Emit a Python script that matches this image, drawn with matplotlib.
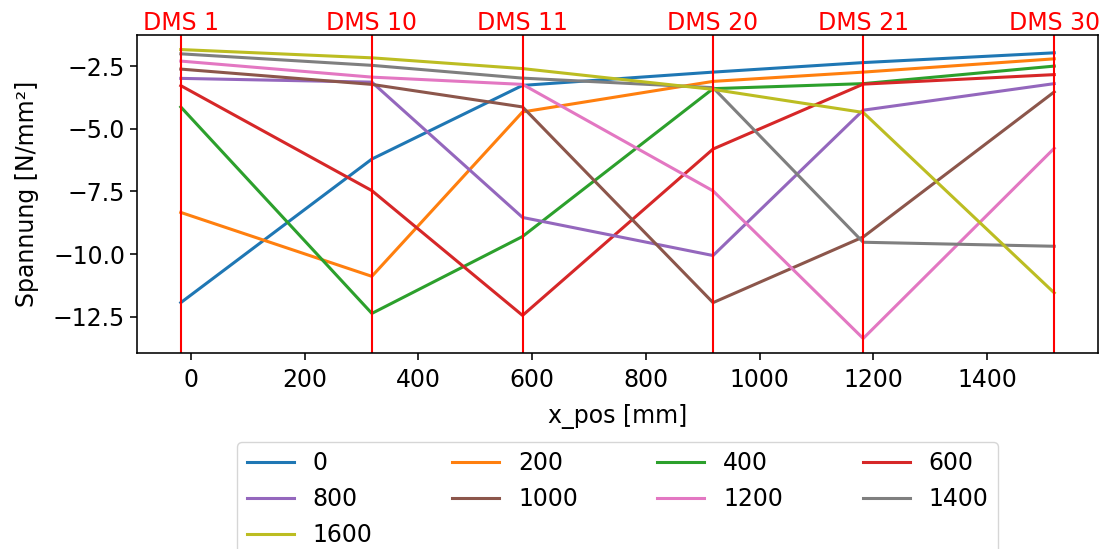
import matplotlib
matplotlib.use('Agg')
import matplotlib.pyplot as plt

# DMS-Positionen [mm] und Bezeichnungen
x_pos = [-18, 318, 583, 918, 1182, 1518]
dms_namen = ['DMS 1', 'DMS 10', 'DMS 11', 'DMS 20', 'DMS 21', 'DMS 30']

# Laststellungen (Legende)
lasten = ['0', '200', '400', '600', '800', '1000', '1200', '1400', '1600']

# Spannungen [N/mm²] je Laststellung an den DMS
s_0 = [-11.94, -6.21, -3.27, -2.74, -2.36, -1.97]
s_200 = [-8.34, -10.89, -4.33, -3.11, -2.74, -2.21]
s_400 = [-4.13, -12.37, -9.30, -3.40, -3.20, -2.50]
s_600 = [-3.28, -7.47, -12.45, -5.81, -3.22, -2.84]
s_800 = [-2.99, -3.14, -8.54, -10.06, -4.26, -3.20]
s_1000 = [-2.62, -3.23, -4.13, -11.94, -9.32, -3.53]
s_1200 = [-2.30, -2.94, -3.23, -7.48, -13.37, -5.78]
s_1400 = [-2.01, -2.47, -2.98, -3.36, -9.53, -9.69]
s_1600 = [-1.84, -2.17, -2.60, -3.43, -4.35, -11.55]

spannungen = [s_0, s_200, s_400, s_600, s_800, s_1000, s_1200, s_1400, s_1600]

plt.rcParams['font.size'] = 17
plt.rcParams['axes.linewidth'] = 1.15
plt.rcParams['xtick.major.width'] = 1.15
plt.rcParams['ytick.major.width'] = 1.15
plt.rcParams['xtick.major.size'] = 5
plt.rcParams['ytick.major.size'] = 5
plt.rcParams['xtick.major.pad'] = 5.5

fig = plt.figure(figsize=(11.04, 5.49), dpi=100)
ax = fig.add_axes([0.1241, 0.357, 0.8705, 0.5792])

linien = []
for last, werte in zip(lasten, spannungen):
    l, = ax.plot(x_pos, werte, label=last, linewidth=2.2)
    linien.append(l)

# DMS-Linien mit Beschriftung oben
ax.set_ylim(-13.95, -1.26)
for x, name in zip(x_pos, dms_namen):
    ax.axvline(x, color='red', linewidth=1.5)
    ax.text(x, -1.26, name, color='red', ha='center', va='bottom')

ax.set_xlim(-95, 1595)
ax.set_xlabel('x_pos [mm]', labelpad=9)
ax.set_ylabel('Spannung [N/mm²]', labelpad=10)

# Legende zeilenweise füllen (4 Spalten)
reihenfolge = [0, 4, 8, 1, 5, 2, 6, 3, 7]
fig.legend([linien[i] for i in reihenfolge], [lasten[i] for i in reihenfolge],
           loc='upper center', bbox_to_anchor=(0.5594, 0.195), ncol=4,
           borderaxespad=0, columnspacing=3.36)

fig.savefig('out.png', dpi=100)
